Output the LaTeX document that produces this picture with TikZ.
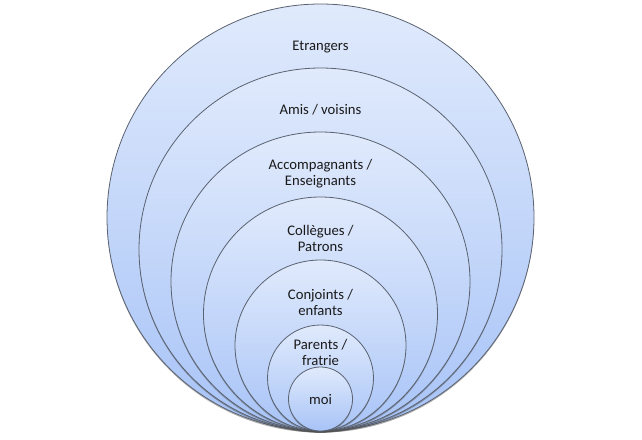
\documentclass[tikz,border=0pt]{standalone}
\usepackage{fontspec}
\setmainfont{Carlito}
\usetikzlibrary{shadows}
\definecolor{toplight}{HTML}{E0EAFC}
\definecolor{botdark}{HTML}{A7C3F7}
\definecolor{ringline}{HTML}{5A6270}
\definecolor{txt}{HTML}{1A1A1A}
\tikzset{
  ring/.style={circle, draw=ringline, line width=0.6pt, inner sep=0pt,
    top color=toplight, bottom color=botdark,
    drop shadow={shadow xshift=0pt, shadow yshift=-1.2pt, opacity=0.45, fill=black!70}},
  lab/.style={font=\fontsize{11}{12}\selectfont, text=txt, align=center, inner sep=0pt}
}
\begin{document}
\begin{tikzpicture}[x=0.75pt,y=-0.75pt]
\useasboundingbox (0,0) rectangle (642,439);
\node[ring, minimum size=427*0.75pt] (c1) at (320.5,217.5) {};
\node[ring, minimum size=363*0.75pt] (c2) at (320.5,249.5) {};
\node[ring, minimum size=299*0.75pt] (c3) at (320.5,281.5) {};
\node[ring, minimum size=234*0.75pt] (c4) at (320.5,314) {};
\node[ring, minimum size=171*0.75pt] (c5) at (320.5,345.5) {};
\node[ring, minimum size=106*0.75pt] (c6) at (320.5,378) {};
\node[ring, minimum size=64*0.75pt] (c7) at (320.5,399) {};
\node[lab] (t1) at (320.5,47) {Etrangers};
\node[lab] (t2) at (320.5,110) {Amis / voisins};
\node[lab] (t3) at (320.5,174) {Accompagnants /\\Enseignants};
\node[lab] (t4) at (320.5,238) {Collègues /\\Patrons};
\node[lab] (t5) at (320.5,302) {Conjoints /\\enfants};
\node[lab] (t6) at (320.5,352) {Parents /\\fratrie};
\node[lab] (t7) at (320.5,399) {moi};
\end{tikzpicture}
\end{document}
